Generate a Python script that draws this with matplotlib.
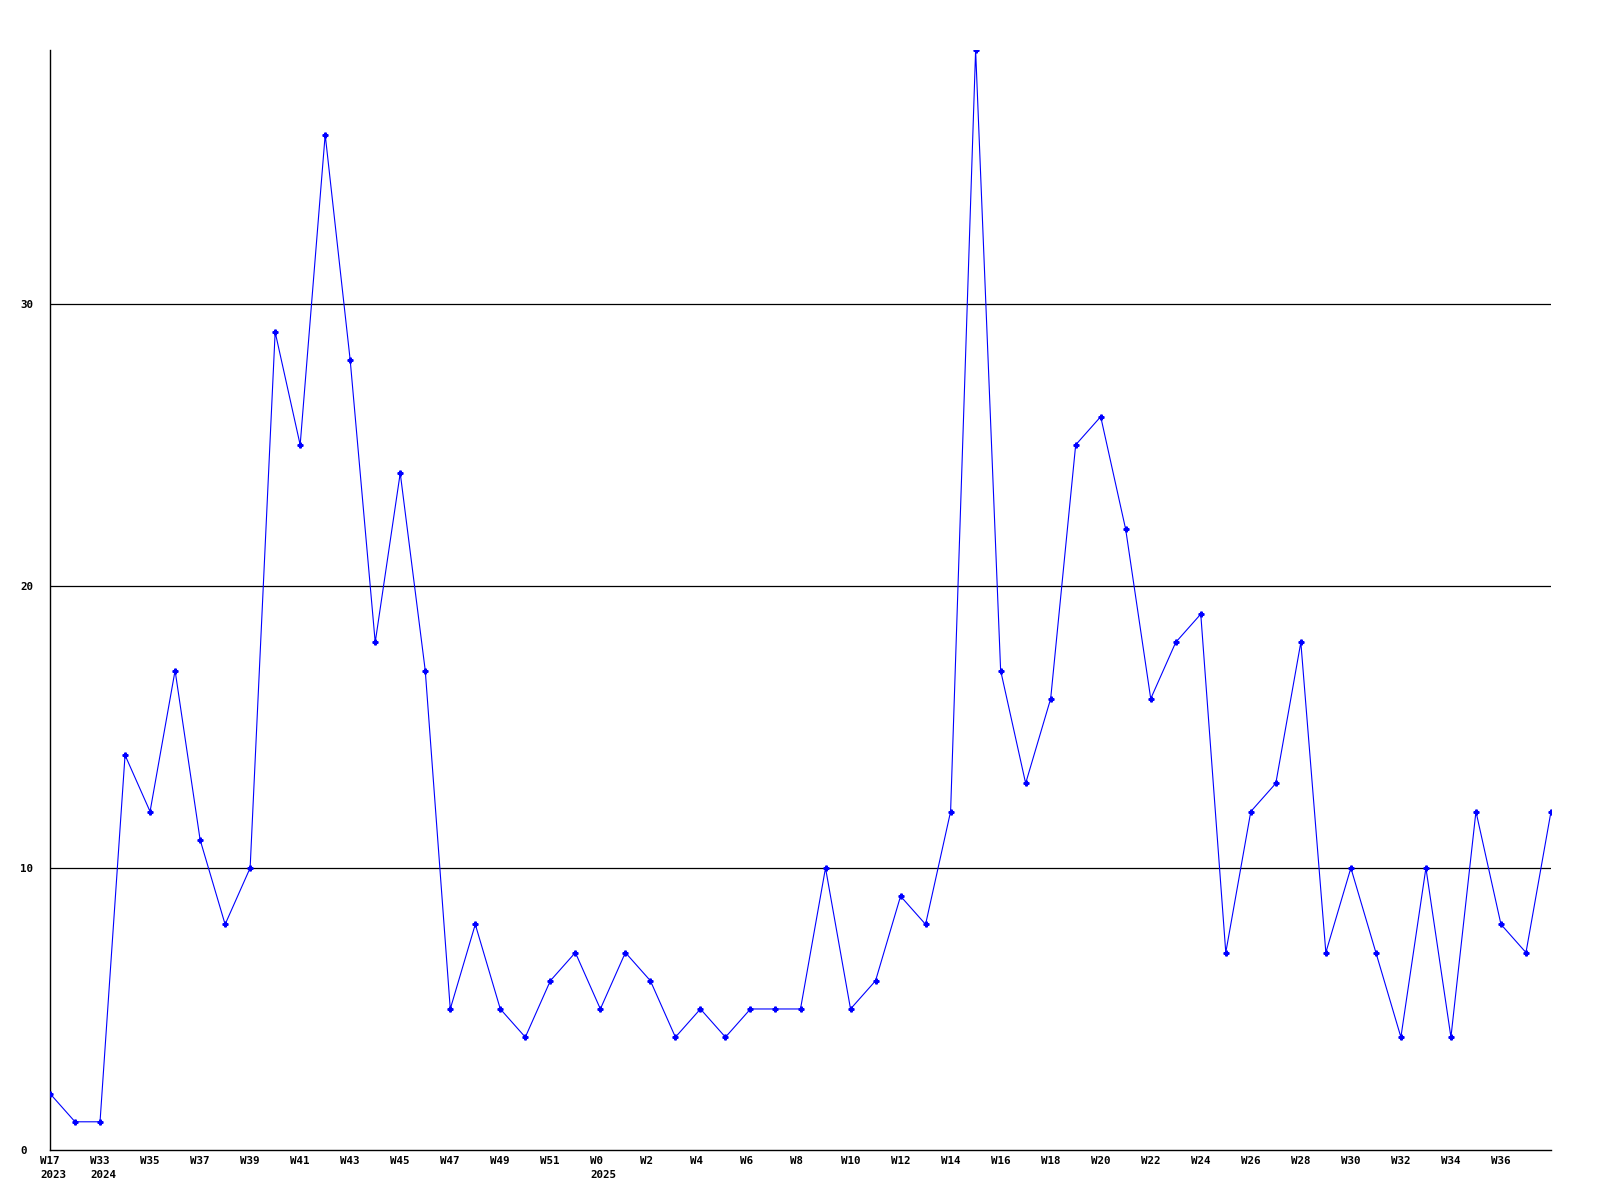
import matplotlib
matplotlib.use('Agg')
import matplotlib.pyplot as plt
import matplotlib.transforms as mtrans

# weekly counts, one per point
counts = [2, 1, 1, 14, 12, 17, 11, 8, 10, 29,
          25, 36, 28, 18, 24, 17, 5, 8, 5, 4,
          6, 7, 5, 7, 6, 4, 5, 4, 5, 5,
          5, 10, 5, 6, 9, 8, 12, 39, 17, 13,
          16, 25, 26, 22, 16, 18, 19, 7, 12, 13,
          18, 7, 10, 7, 4, 10, 4, 12, 8, 7,
          12]

# labels shown on every second point
week_labels = ['W17\n2023', 'W33\n2024', 'W35', 'W37', 'W39', 'W41', 'W43', 'W45',
               'W47', 'W49', 'W51', 'W0\n2025', 'W2', 'W4', 'W6', 'W8', 'W10',
               'W12', 'W14', 'W16', 'W18', 'W20', 'W22', 'W24', 'W26', 'W28',
               'W30', 'W32', 'W34', 'W36']
y_ticks = [0, 10, 20, 30]

plt.rcParams['font.family'] = 'DejaVu Sans Mono'
plt.rcParams['font.weight'] = 'bold'

fig = plt.figure(figsize=(16, 12), dpi=100)
ax = fig.add_axes([50 / 1600, 50 / 1200, 1501 / 1600, 1100 / 1200])

x = list(range(len(counts)))
ax.plot(x, counts, color='#0000ff', lw=0.8, marker='P', ms=3.5,
        mec='#0000ff', mfc='#0000ff', zorder=3)

ax.set_xlim(0, len(counts) - 1)
ax.set_ylim(0, 39)

for y in y_ticks[1:]:
    ax.axhline(y, color='black', lw=0.9, zorder=1)

ax.set_yticks(y_ticks)
ax.set_yticklabels([str(v) for v in y_ticks], fontsize=7.8)
ax.tick_params(axis='y', length=0, pad=21.6)
for lab in ax.get_yticklabels():
    lab.set_horizontalalignment('left')

ax.set_xticks(x[::2][:len(week_labels)])
ax.set_xticklabels(week_labels, fontsize=7.8, linespacing=1.5)
ax.tick_params(axis='x', length=0, pad=4)
shift = mtrans.ScaledTranslation(-10 / 100, 0, fig.dpi_scale_trans)
for lab in ax.get_xticklabels():
    lab.set_horizontalalignment('left')
    lab.set_transform(lab.get_transform() + shift)

for s in ['top', 'right']:
    ax.spines[s].set_visible(False)
for s in ['left', 'bottom']:
    ax.spines[s].set_linewidth(1.0)

fig.savefig('out.png', dpi=100)
